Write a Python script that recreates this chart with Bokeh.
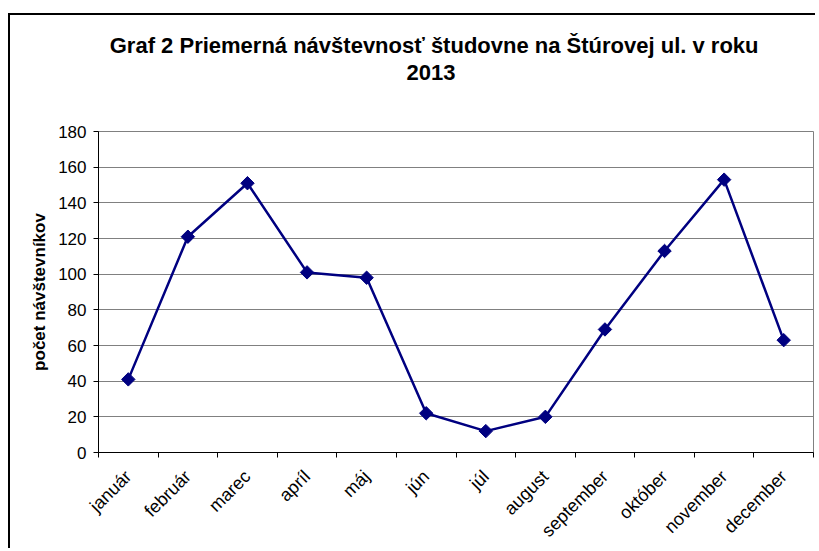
import math
from bokeh.plotting import figure
from bokeh.models import FixedTicker, Range1d, Title
from bokeh.embed import file_html
from bokeh.resources import INLINE

months = ["január", "február", "marec", "apríl", "máj", "jún", "júl",
          "august", "september", "október", "november", "december"]
visitors = [41, 121, 151, 101, 98, 22, 12, 20, 69, 113, 153, 63]
y_ticks = [0, 20, 40, 60, 80, 100, 120, 140, 160, 180]
title_lines = ["Graf 2 Priemerná návštevnosť študovne na Štúrovej ul. v roku", "2013"]
y_label = "počet návštevníkov"

FONT = "Liberation Sans"
NAVY = "#000080"

x_pos = [i + 0.5 for i in range(len(months))]

p = figure(width=807, height=535, output_backend="svg", toolbar_location=None,
           x_range=Range1d(0, len(months)), y_range=Range1d(0, 180),
           min_border_left=88, min_border_right=4, min_border_top=116,
           min_border_bottom=98, title=None)

p.styles = {"border-top": "2px solid black", "border-left": "2px solid black",
            "margin-top": "13px", "margin-left": "8px"}

p.background_fill_color = "white"
p.border_fill_color = "white"
p.outline_line_color = "#808080"
p.outline_line_width = 1

xa = p.xaxis[0]
xa.ticker = FixedTicker(ticks=x_pos, minor_ticks=list(range(len(months) + 1)))
xa.major_label_overrides = {xp: m for xp, m in zip(x_pos, months)}
xa.major_tick_out = 0
xa.major_tick_in = 0
xa.minor_tick_out = 5
xa.minor_tick_in = 0
xa.minor_tick_line_color = "black"
xa.axis_line_color = "black"
xa.major_label_orientation = math.pi / 4
xa.major_label_text_font = FONT
xa.major_label_text_font_size = "18px"
xa.major_label_text_color = "black"
xa.major_label_standoff = 16

ya = p.yaxis[0]
ya.ticker = FixedTicker(ticks=y_ticks)
ya.major_tick_out = 5
ya.major_tick_in = 0
ya.minor_tick_line_color = None
ya.axis_line_color = "black"
ya.major_label_text_font = FONT
ya.major_label_text_font_size = "17px"
ya.major_label_text_color = "black"
ya.major_label_standoff = 7
ya.axis_label = y_label
ya.axis_label_text_font = FONT
ya.axis_label_text_font_size = "17px"
ya.axis_label_text_font_style = "bold"
ya.axis_label_text_color = "black"
ya.axis_label_standoff = 6

p.xgrid.visible = False
p.ygrid.ticker = FixedTicker(ticks=y_ticks)
p.ygrid.grid_line_color = "#808080"
p.ygrid.grid_line_width = 1

p.line(x_pos, visitors, line_color=NAVY, line_width=2.5)
p.scatter(x_pos, visitors, marker="square", angle=math.pi / 4, size=9.5,
          fill_color=NAVY, line_color=NAVY)

# spacer between frame and the title block
p.add_layout(Title(text=" ", text_font_size="10px", standoff=36), "above")
p.add_layout(Title(text=title_lines[1], text_font=FONT, text_font_size="22px",
                   text_font_style="bold", text_color="black", align="right",
                   offset=358, standoff=5, vertical_align="bottom"), "above")
p.add_layout(Title(text=title_lines[0], text_font=FONT, text_font_size="22px",
                   text_font_style="bold", text_color="black", align="right",
                   offset=55, standoff=5, vertical_align="bottom"), "above")

open("out.html", "w").write(file_html(p, INLINE))
